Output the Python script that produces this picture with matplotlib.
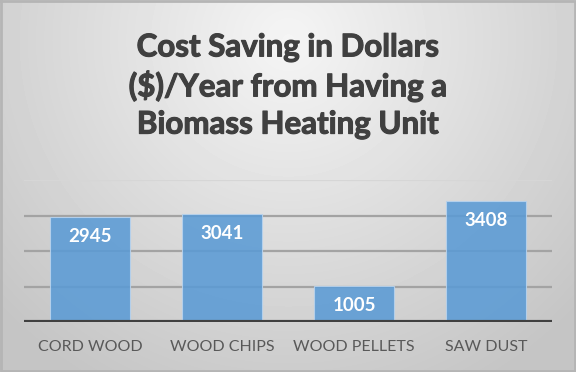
import matplotlib.pyplot as plt
import matplotlib.patheffects as pe
import numpy as np

categories = ['CORD WOOD', 'WOOD CHIPS', 'WOOD PELLETS', 'SAW DUST']
savings = [2945, 3041, 1005, 3408]
grid_levels = [1000, 2000, 3000, 4000]

W, H = 576, 372
fig = plt.figure(figsize=(W / 100, H / 100), dpi=100)

# radial gray background like the office chart area
bg = fig.add_axes([0, 0, 1, 1])
yy, xx = np.mgrid[0:H, 0:W]
r = np.sqrt(((xx - W / 2) / (W * 0.62)) ** 2 + ((yy - 40) / (H * 0.95)) ** 2)
shade = np.clip(0.96 - 0.17 * r, 0.77, 0.96)
bg.imshow(shade, cmap='gray', vmin=0, vmax=1, aspect='auto', extent=[0, W, H, 0])
bg.plot([1, W - 1, W - 1, 1, 1], [1, 1, H - 1, H - 1, 1], color='#b5b5b5', lw=2)
bg.set_xlim(0, W)
bg.set_ylim(H, 0)
bg.axis('off')

fig.text(0.5, 1 - 86 / H, 'Cost Saving in Dollars\n($)/Year from Having a\nBiomass Heating Unit',
         ha='center', va='center', fontsize=22.5, fontweight='bold', family='Lato',
         color='#404040', linespacing=1.4,
         path_effects=[pe.withStroke(linewidth=0.8, foreground='#404040')])

ax = fig.add_axes([24 / W, 1 - 322 / H, 528 / W, 142 / H])
ax.patch.set_alpha(0)
x = np.arange(len(categories))
ax.set_xlim(-0.5, len(categories) - 0.5)
ax.set_ylim(0, 4000)

for g in grid_levels:
    c = '#d6d6d6' if g == 4000 else '#a3a3a3'
    ax.axhline(g, color=c, lw=1.6, zorder=1)

bars = ax.bar(x, savings, width=0.6, color='#5b9bd5', alpha=0.88,
              edgecolor='#b8d3ee', linewidth=0.8, zorder=2)
for xi, v in zip(x, savings):
    ax.annotate(str(v), (xi, v), xytext=(0, -14), textcoords='offset points',
                ha='center', va='center', color='white',
                fontsize=13.5, fontweight='bold', family='Lato', zorder=3)

ax.axhline(0, color='#404040', lw=3, zorder=4)
ax.set_xticks(x)
ax.set_xticklabels(categories, fontsize=11.5, family='Lato', color='#595959')
ax.tick_params(axis='x', length=0, pad=13)
ax.set_yticks([])
for s in ax.spines.values():
    s.set_visible(False)

fig.savefig('out.png', dpi=100)
